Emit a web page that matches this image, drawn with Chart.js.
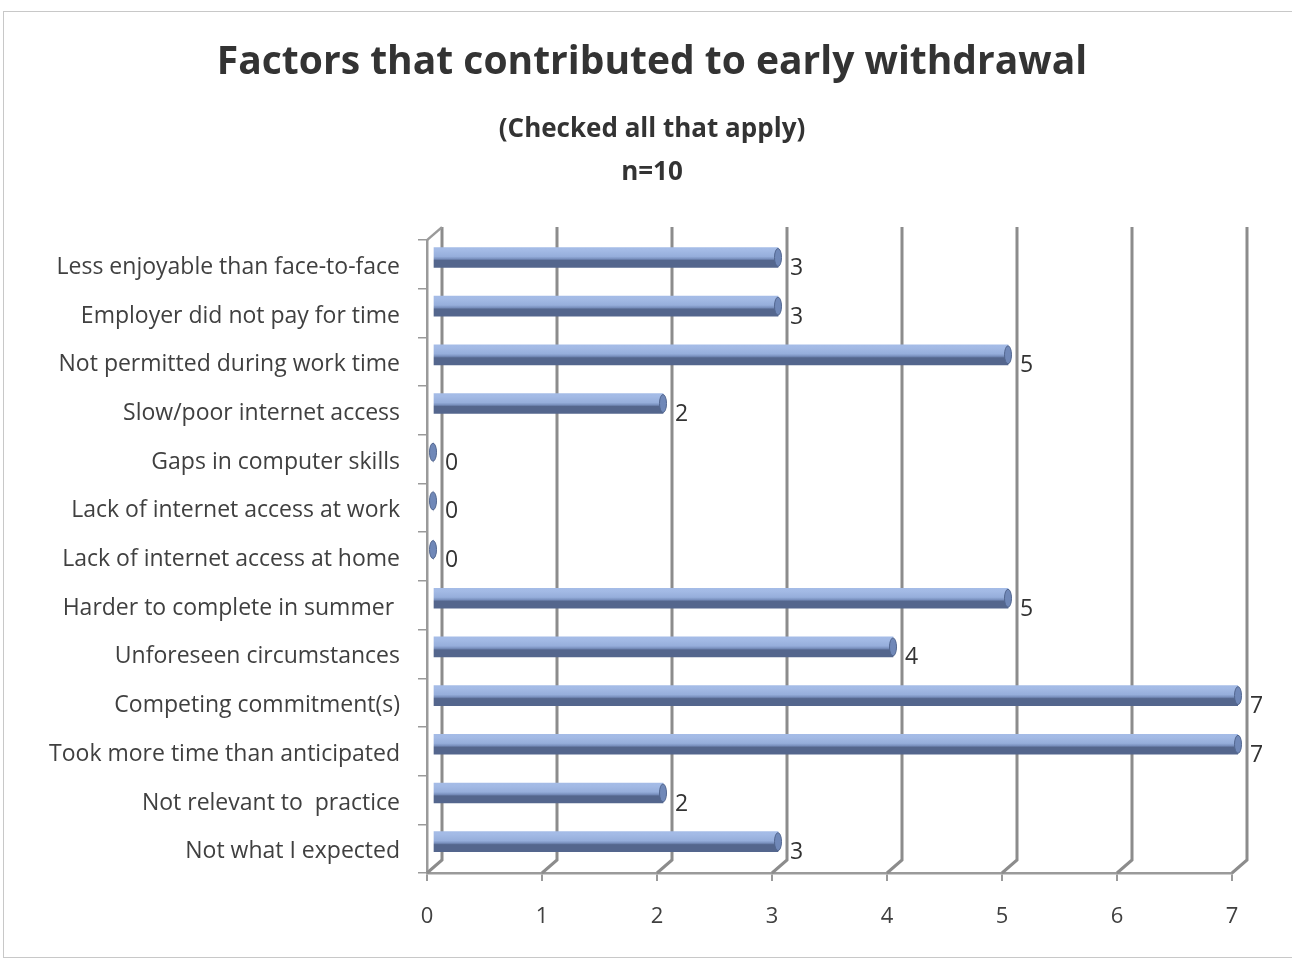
<!DOCTYPE html>
<html>
<head>
<meta charset="utf-8">
<title>Factors that contributed to early withdrawal</title>
<script src="https://cdn.jsdelivr.net/npm/chart.js@4.4.1/dist/chart.umd.min.js"></script>
<style>
  html, body { margin: 0; padding: 0; background: #fff; }
  #wrap { width: 1292px; height: 959px; }
</style>
</head>
<body>
<div id="wrap"><canvas id="factorsChart" width="1292" height="959"></canvas></div>
<script>
// datos del gráfico (de arriba hacia abajo)
const categories = [
    'Less enjoyable than face-to-face',
    'Employer did not pay for time',
    'Not permitted during work time',
    'Slow/poor internet access',
    'Gaps in computer skills',
    'Lack of internet access at work',
    'Lack of internet access at home',
    'Harder to complete in summer ',
    'Unforeseen circumstances',
    'Competing commitment(s)',
    'Took more time than anticipated',
    'Not relevant to  practice',
    'Not what I expected'
];
const counts = [3, 3, 5, 2, 0, 0, 0, 5, 4, 7, 7, 2, 3];
const xTicks = [0, 1, 2, 3, 4, 5, 6, 7];
const titleText = 'Factors that contributed to early withdrawal';
const subtitleLines = ['(Checked all that apply)', 'n=10'];

const FONT = '"Open Sans", Lato, sans-serif';
const DX = 15, DY = 13;          // profundidad del efecto 3D
const SHIFT_X = 6, SHIFT_Y = -7; // barras en medio de la profundidad

// degradado tipo cilindro para cada barra
function barGradient(context) {
    const chart = context.chart;
    const yScale = chart.scales.y;
    if (!yScale || context.dataIndex === undefined) return '#9db5e2';
    const cy = yScale.getPixelForValue(context.dataIndex) + SHIFT_Y;
    if (!isFinite(cy)) return '#9db5e2';
    const h = 10;
    const g = chart.ctx.createLinearGradient(0, cy - h, 0, cy + h);
    g.addColorStop(0, '#869ecb');
    g.addColorStop(0.1, '#a8bfea');
    g.addColorStop(0.5, '#a3bae5');
    g.addColorStop(0.8, '#96aedb');
    g.addColorStop(0.92, '#7990be');
    g.addColorStop(1, '#54668d');
    return g;
}

const wall3d = {
    id: 'wall3d',
    beforeDraw(chart) {
        const ctx = chart.ctx;
        ctx.save();
        ctx.strokeStyle = '#c8c8c8';
        ctx.lineWidth = 1;
        ctx.strokeRect(3.5, 11.5, 1300, 946);
        ctx.restore();
    },
    beforeDatasetsDraw(chart) {
        const { ctx, chartArea: a, scales: { x } } = chart;
        ctx.save();
        ctx.strokeStyle = '#8c8c8c';
        ctx.lineWidth = 3;
        xTicks.forEach(v => {
            const px = x.getPixelForValue(v);
            ctx.beginPath();
            ctx.moveTo(px, a.bottom);
            ctx.lineTo(px + DX, a.bottom - DY);
            ctx.lineTo(px + DX, a.top - DY);
            ctx.stroke();
        });
        ctx.lineWidth = 2.5;
        ctx.strokeStyle = '#9a9a9a';
        ctx.beginPath();
        ctx.moveTo(a.left, a.top);
        ctx.lineTo(a.left + DX, a.top - DY);
        ctx.stroke();
        ctx.restore();
        ctx.save();
        ctx.translate(SHIFT_X, SHIFT_Y);
    },
    afterDatasetsDraw(chart) {
        const ctx = chart.ctx;
        ctx.restore();
        const meta = chart.getDatasetMeta(0);
        ctx.save();
        meta.data.forEach((el, i) => {
            const ex = el.x + SHIFT_X;
            const ey = el.y + SHIFT_Y;
            // tapa del cilindro
            ctx.beginPath();
            ctx.ellipse(ex, ey, 3.5, 9, 0, 0, Math.PI * 2);
            ctx.fillStyle = '#7088b8';
            ctx.fill();
            ctx.strokeStyle = '#52668f';
            ctx.lineWidth = 1;
            ctx.stroke();
            // etiqueta del valor
            ctx.fillStyle = '#333333';
            ctx.font = '23px ' + FONT;
            ctx.textAlign = 'left';
            ctx.textBaseline = 'middle';
            ctx.fillText(String(counts[i]), el.x + 18, el.y + 4);
        });
        ctx.restore();
    }
};

const ctx = document.getElementById('factorsChart').getContext('2d');

const factorsChart = new Chart(ctx, {
    type: 'bar',
    data: {
        labels: categories,
        datasets: [{
            label: 'Responses',
            data: counts,
            backgroundColor: barGradient,
            borderWidth: 0,
            barThickness: 20,
            borderSkipped: false
        }]
    },
    options: {
        indexAxis: 'y',
        responsive: false,
        animation: false,
        layout: {
            padding: { left: 12, right: 0, top: 0, bottom: 0 }
        },
        plugins: {
            legend: { display: false },
            tooltip: { enabled: false },
            title: {
                display: true,
                text: titleText,
                color: '#333333',
                font: { family: FONT, size: 39, weight: 'bold', lineHeight: 1.2 },
                padding: { top: 39, bottom: 0 }
            },
            subtitle: {
                display: true,
                text: subtitleLines,
                color: '#333333',
                font: { family: FONT, size: 26, weight: 'bold', lineHeight: 1.66 },
                padding: { top: 22, bottom: 46 }
            }
        },
        scales: {
            x: {
                min: 0,
                max: 7,
                afterFit(scale) { scale.height = 86; },
                afterBuildTicks(scale) { scale.ticks = xTicks.map(v => ({ value: v })); },
                ticks: {
                    color: '#404040',
                    font: { family: FONT, size: 22 },
                    padding: 23
                },
                grid: {
                    drawOnChartArea: false,
                    drawTicks: true,
                    tickLength: 8,
                    color: '#9a9a9a',
                    lineWidth: 2
                },
                border: { display: true, color: '#9a9a9a', width: 2.5 }
            },
            y: {
                afterFit(scale) { scale.width = 415; },
                ticks: {
                    color: '#404040',
                    font: { family: FONT, size: 23 },
                    padding: 18,
                    labelOffset: 3
                },
                grid: {
                    drawOnChartArea: false,
                    drawTicks: true,
                    tickLength: 9,
                    offset: true,
                    color: '#9a9a9a',
                    lineWidth: 1.5
                },
                border: { display: true, color: '#9a9a9a', width: 2.5 }
            },
            // eje vacío a la derecha: deja el margen derecho sin descentrar el título
            yRight: {
                type: 'linear',
                position: 'right',
                display: true,
                afterFit(scale) { scale.width = 60; },
                ticks: { display: false },
                grid: { display: false },
                border: { display: false }
            }
        }
    },
    plugins: [wall3d]
});
</script>
</body>
</html>
